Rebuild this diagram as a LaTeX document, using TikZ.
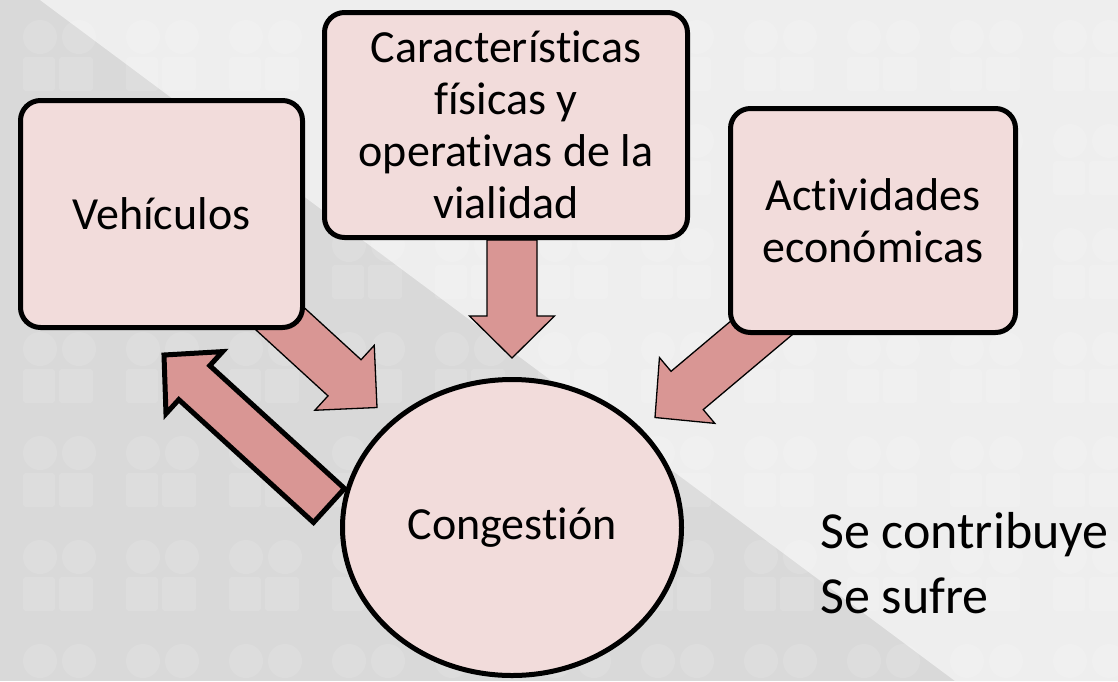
\documentclass[tikz,border=0pt]{standalone}
\usepackage{fontspec}
\setmainfont{Carlito}[Ligatures=CommonOff]
\usetikzlibrary{calc,shapes.geometric}
\definecolor{boxpink}{HTML}{F2DCDB}
\definecolor{arrowpink}{HTML}{D99694}
\definecolor{bgdark}{HTML}{D9D9D9}
\definecolor{bglight}{HTML}{EEEEEE}
\pgfdeclarelayer{back}
\pgfdeclarelayer{behind}
\pgfsetlayers{back,behind,main}
\newcommand{\blockarrow}[6]{%
  \draw[#1] ($(#2)!#4!90:(#3)$) -- ($(#2)!#4!-90:(#3)$)
    -- ($(#3)!#6!(#2)!#4!90:(#2)$) -- ($(#3)!#6!(#2)!#5!90:(#2)$) -- (#3)
    -- ($(#3)!#6!(#2)!#5!-90:(#2)$) -- ($(#3)!#6!(#2)!#4!-90:(#2)$) -- cycle;}
\begin{document}
\begin{tikzpicture}[x=1pt,y=-1pt]
\tikzstyle{box}=[draw=black,fill=boxpink,line width=5pt,rounded corners=20pt,align=center,inner sep=0pt,font=\fontsize{46}{52}\selectfont]
\tikzstyle{bubble}=[ellipse,draw=black,fill=boxpink,line width=5pt,inner sep=0pt,minimum width=339pt,minimum height=296pt,font=\fontsize{46}{52}\selectfont]
\tikzstyle{flow}=[draw=black,fill=arrowpink,line width=1.3pt]
\tikzstyle{backflow}=[draw=black,fill=arrowpink,line width=5pt]
\tikzstyle{plain}=[anchor=base west,inner sep=0pt,font=\fontsize{52}{65}\selectfont]

\useasboundingbox (0,0) rectangle (1118,681);
\begin{pgfonlayer}{back}
\fill[bgdark] (0,0) rectangle (1118,681);
\fill[bglight] (40,0) -- (1118,0) -- (1118,681) -- (955,681) -- cycle;
\foreach \i in {-1,...,10} \foreach \j in {0,...,6} {
  \fill[white,opacity=0.12] (40+103*\i,37+104*\j) circle (17) (79+103*\i,37+104*\j) circle (17);
  \fill[white,opacity=0.12,rounded corners=3pt] (23+103*\i,57+104*\j) rectangle (55+103*\i,91+104*\j)
    (59+103*\i,57+104*\j) rectangle (93+103*\i,91+104*\j);
}
\end{pgfonlayer}

\node[box,minimum width=282pt,minimum height=227pt] (veh) at (161.5,214) {Vehículos};
\node[box,minimum width=363pt,minimum height=225pt] (car) at (506,125) {Características\\físicas y\\operativas de la\\vialidad};
\node[box,minimum width=285pt,minimum height=224pt] (act) at (873,220.5) {Actividades\\económicas};
\node[bubble] (cong) at (512,527.5) {Congestión};

\coordinate (cartail) at (cong.north |- car.south);
\coordinate (cartip) at ($(cong.north)+(0,-19)$);
\coordinate (vehtail) at ($(veh.south east)+(-40,-25)$);
\coordinate (vehtip) at ($(cong.west)+(37,-120)$);
\coordinate (acttail) at ($(act.south west)+(50,-21)$);
\coordinate (acttip) at ($(cong.east)+(-29,-110)$);
\coordinate (backtail) at ($(cong.west)+(-11,-22)$);
\coordinate (backtip) at ($(veh.south west)+(146,25)$);

\begin{pgfonlayer}{behind}
\blockarrow{flow}{cartail}{cartip}{25pt}{42.5pt}{42pt}
\blockarrow{flow}{vehtail}{vehtip}{24.5pt}{44pt}{44pt}
\blockarrow{flow}{acttail}{acttip}{25pt}{43pt}{42pt}
\end{pgfonlayer}
\blockarrow{backflow}{backtail}{backtip}{23pt}{42pt}{41pt}

\node[plain] (contrib) at (820,548) {Se contribuye};
\node[plain] (sufre) at (820,613) {Se sufre};
\end{tikzpicture}
\end{document}
